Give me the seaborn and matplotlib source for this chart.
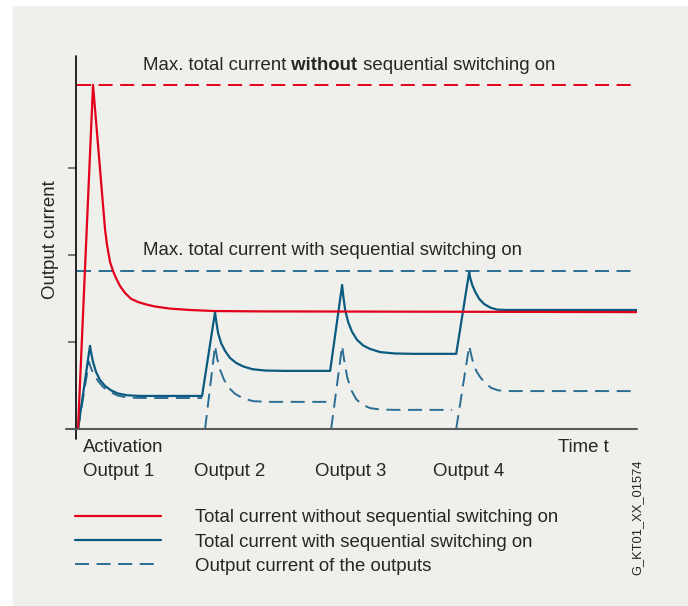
import numpy as np
import pandas as pd
import matplotlib.pyplot as plt
import seaborn as sns
from matplotlib.patches import Rectangle
from matplotlib.lines import Line2D

# time in ms (switch-on of output 1..4 at about 2, 102, 202, 302)
# current in % of the max. total current without sequential switching on
red_t = [1.6, 13.5, 23.0, 24.6, 27.0, 29.4, 31.7, 34.9, 38.9, 43.7, 49.2, 55.6,
         62.7, 74.6, 90.5, 110.3, 146, 445]
red_i = [0, 98.9, 57.5, 52.9, 48.0, 45.4, 43.4, 41.1, 39.1, 37.4, 36.5, 35.8,
         35.2, 34.6, 34.2, 33.9, 33.8, 33.6]

blue_t = [1.6, 11.1, 11.9, 13.5, 15.9, 19.0, 23.0, 27.8, 33.3, 40.5, 50.8, 100,
          110.3, 111.1, 112.7, 115.1, 118.3, 122.2, 127.0, 132.5, 139.7, 150, 165.9, 201.6,
          211.1, 211.9, 213.5, 215.9, 219.0, 223.0, 227.8, 233.3, 241.3, 253.2, 269.0, 301.6,
          311.9, 312.7, 314.3, 316.7, 319.8, 323.8, 328.6, 334.1, 342.1, 445]
blue_i = [0, 23.9, 22.1, 19.3, 16.4, 14.1, 12.4, 11.1, 10.2, 9.7, 9.5, 9.5,
          33.6, 31.3, 27.6, 24.7, 22.4, 20.4, 19.0, 18.0, 17.2, 16.8, 16.7, 16.7,
          41.4, 38.5, 34.2, 30.7, 27.9, 25.6, 24.0, 23.0, 22.1, 21.7, 21.6, 21.6,
          45.1, 43.4, 41.4, 39.4, 37.4, 35.9, 34.9, 34.3, 34.2, 34.2]

out1_t = [1.6, 10.3, 11.9, 14.3, 17.5, 21.4, 27.0, 33.3, 41.3, 54.8, 100]
out1_i = [0, 19.3, 17.5, 15.5, 13.8, 12.1, 10.6, 9.6, 9.0, 8.9, 8.9]
out2_t = [102.4, 110.3, 111.9, 114.3, 117.5, 121.4, 126.2, 132.5, 140.5, 152.4, 201.6]
out2_i = [0, 23.9, 20.4, 17.0, 14.1, 11.8, 10.1, 8.8, 8.0, 7.8, 7.8]
out3_t = [202.4, 211.1, 212.7, 215.1, 218.3, 222.2, 227.0, 233.3, 241.3, 253.2, 298.4]
out3_i = [0, 23.9, 19.8, 14.9, 11.2, 8.6, 7.0, 6.0, 5.6, 5.5, 5.5]
out4_t = [301.6, 311.9, 313.5, 315.1, 317.5, 320.6, 324.6, 329.4, 334.9, 344.4, 445]
out4_i = [0, 23.9, 21.3, 19.0, 16.7, 14.9, 13.2, 11.8, 11.1, 10.9, 10.9]

max_without = 98.9
max_with = 45.4
t_end = 445
y_top = 107.2
yticks = [25, 50, 75]

switch_labels = ["Output 1", "Output 2", "Output 3", "Output 4"]
legend_labels = ["Total current without sequential switching on",
                 "Total current with sequential switching on",
                 "Output current of the outputs"]

outputs = pd.concat([
    pd.DataFrame({"t": t, "i": i, "output": n})
    for n, (t, i) in enumerate([(out1_t, out1_i), (out2_t, out2_i),
                                (out3_t, out3_i), (out4_t, out4_i)], start=1)
])

sns.set_style("white")
plt.rcParams["font.family"] = ["Liberation Sans", "DejaVu Sans"]

RED = "#e2001a"
BLUE = "#0b5a80"
BLUE_D = "#2c6d93"
BG = "#efefeb"
FS = 13.4
DASH = (0, (7.2, 3.9))

W, H = 688, 606


def px(x, y):
    return x / W, 1 - y / H


fig = plt.figure(figsize=(W / 100, H / 100), dpi=100)
fig.patches.append(Rectangle((13 / W, 0), 1, 1 - 6 / H, transform=fig.transFigure,
                             color=BG, zorder=-10))

ax = fig.add_axes([76 / W, 1 - 429 / H, 561 / W, 373 / H])
ax.set_facecolor("none")
ax.set_zorder(1)

# limit lines
ax.hlines(max_without, 1, t_end, color=RED, lw=1.4, linestyle=DASH)
ax.hlines(max_with, 0.8, t_end, color=BLUE_D, lw=1.4, linestyle=DASH)

sns.lineplot(data=outputs, x="t", y="i", units="output", estimator=None, sort=False,
             color=BLUE_D, lw=1.4, linestyle=DASH, ax=ax)
sns.lineplot(x=blue_t, y=blue_i, estimator=None, sort=False, color=BLUE, lw=1.6, ax=ax)
sns.lineplot(x=red_t, y=red_i, estimator=None, sort=False, color=RED, lw=1.6, ax=ax)

ax.set_xlim(0, t_end)
ax.set_ylim(0, y_top)
ax.set_xticks([])
ax.set_yticks(yticks)
ax.set_yticklabels([])
ax.tick_params(axis="y", left=True, length=6, width=1.1, color="#555555")
for s in ax.spines.values():
    s.set_visible(False)
ax.plot([0, 0], [-10 / 373, 1], transform=ax.transAxes, color="black", lw=1.2,
        clip_on=False)
ax.plot([-10 / 561, 1], [0, 0], transform=ax.transAxes, color="#5a5a5a", lw=1.5,
        clip_on=False)
ax.set_xlabel("")
ax.set_ylabel("Output current", fontsize=FS)
ax.yaxis.set_label_coords(-17 / 561, (429 - 240) / 373)

# headings with one bold word
t1 = fig.text(*px(143, 70), "Max. total current", fontsize=FS, va="baseline")
t2 = ax.annotate(" without", xycoords=t1, xy=(1, 0), va="bottom", fontsize=FS,
                 weight="bold", annotation_clip=False)
ax.annotate(" sequential switching on", xycoords=t2, xy=(1, 0), va="bottom",
            fontsize=FS, annotation_clip=False)
fig.text(*px(143, 255), "Max. total current with sequential switching on",
         fontsize=FS, va="baseline")

# x annotations
fig.text(*px(83, 452), "Activation", fontsize=FS, va="baseline")
for lab, x0 in zip(switch_labels, [83, 194, 315, 433]):
    fig.text(*px(x0, 476), lab, fontsize=FS, va="baseline")
fig.text(*px(558, 452), "Time t", fontsize=FS, va="baseline")

# legend
handles = [Line2D([], [], color=RED, lw=1.6),
           Line2D([], [], color=BLUE, lw=1.6),
           Line2D([], [], color=BLUE_D, lw=1.4, linestyle=DASH)]
fig.legend(handles, legend_labels, loc="center left", bbox_to_anchor=px(75, 542),
           frameon=False, fontsize=FS, handlelength=4.6, handletextpad=1.83,
           labelspacing=0.39, borderpad=0, borderaxespad=0)

fig.text(*px(637, 517), "G_KT01_XX_01574", fontsize=9.3, rotation=90,
         ha="center", va="center")

fig.savefig("out.png", dpi=100, facecolor="white")
